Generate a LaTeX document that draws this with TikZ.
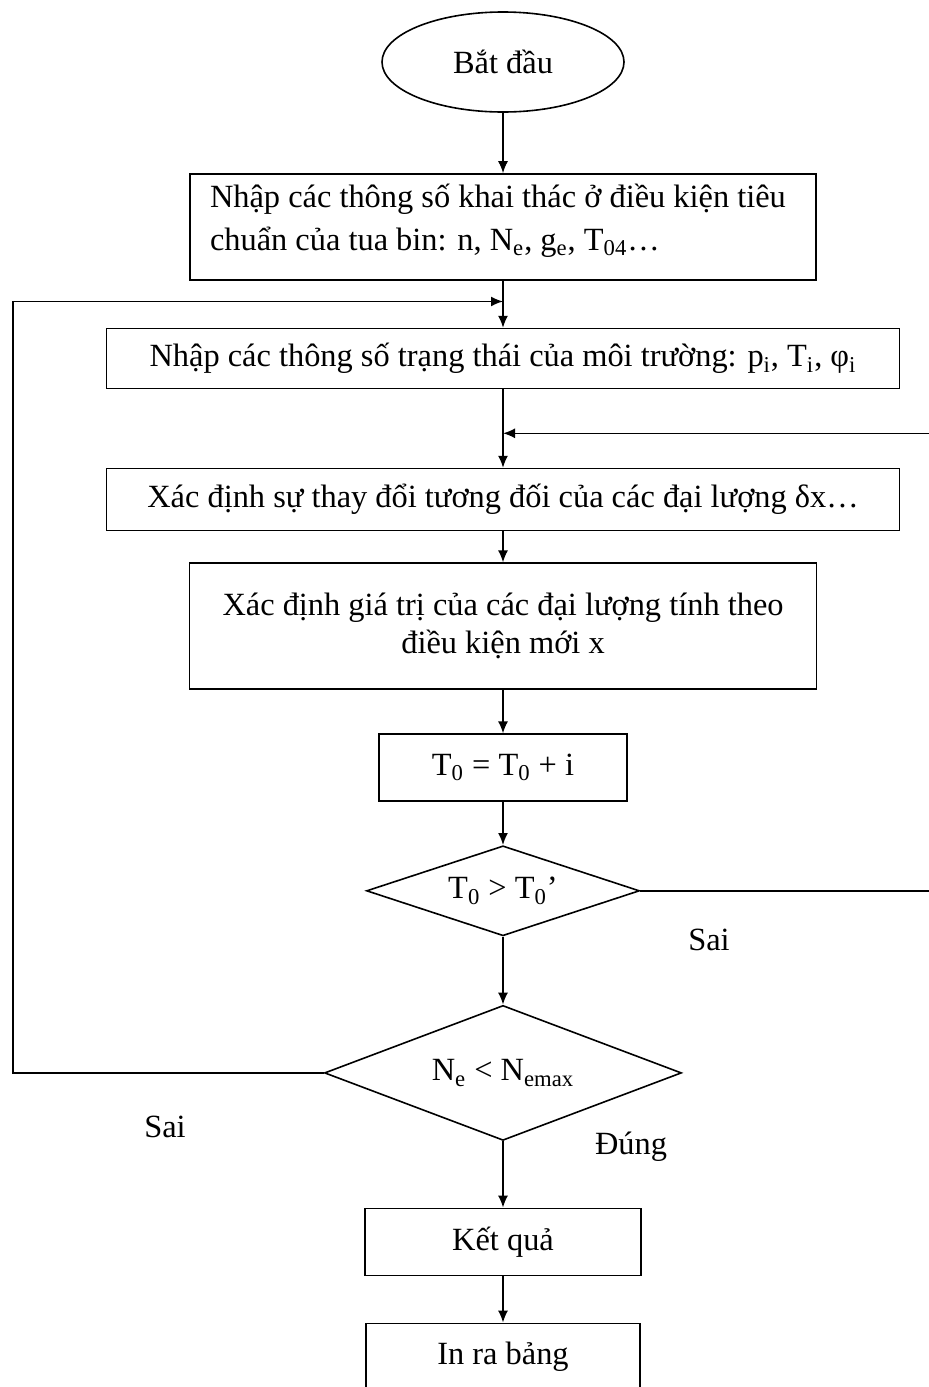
\documentclass[tikz,border=0pt]{standalone}
\usepackage{fontspec}
\setmainfont{Liberation Serif}
\usetikzlibrary{arrows.meta,calc,positioning,shapes.geometric}

\begin{document}
\begin{tikzpicture}[
  box/.style={draw=black,minimum height=33.5pt,align=center,font=\fontsize{16.2pt}{19pt}\selectfont,fill=white,line width=0.8pt,inner sep=3pt},
  decision/.style={draw=black,diamond,inner sep=0pt,font=\fontsize{16.2pt}{19pt}\selectfont,line width=0.8pt},
  arrow/.style={-{Latex[length=6pt,width=5pt]},line width=0.8pt,draw=black},
  lbl/.style={font=\fontsize{16.2pt}{19pt}\selectfont}
]
\useasboundingbox (0,0) rectangle (464pt,-693.5pt);
\node[draw=black,ellipse,line width=0.8pt,minimum width=121pt,minimum height=50pt,font=\fontsize{16.2pt}{19pt}\selectfont] (start) at (251.5pt,-31pt) {Bắt đầu};
\node[box,below=30.2pt of start,minimum width=313pt,minimum height=53pt,text width=293pt,align=flush left] (params) {Nhập các thông số khai thác ở điều kiện tiêu\\[2.5pt]chuẩn của tua bin: n, N\textsubscript{e}, g\textsubscript{e}, T\textsubscript{04}…\\[-9pt]\mbox{}};
\node[box,below=23.5pt of params,minimum width=396.5pt,minimum height=30pt] (env) {Nhập các thông số trạng thái của môi trường: p\textsubscript{i}, T\textsubscript{i}, φ\textsubscript{i}};
\node[box,below=39.2pt of env,minimum width=396.5pt,minimum height=31pt] (delta) {Xác định sự thay đổi tương đối của các đại lượng δx…};
\node[box,below=15.5pt of delta,minimum width=313.5pt,minimum height=63pt] (value) {Xác định giá trị của các đại lượng tính theo\\điều kiện mới x};
\node[box,below=21.7pt of value,minimum width=124pt] (incr) {T\textsubscript{0} = T\textsubscript{0} + i};
\node[decision,below=21.5pt of incr,minimum width=136.5pt,minimum height=45pt,aspect=3] (cmpT) {T\textsubscript{0} > T\textsubscript{0}’};
\node[decision,below=34pt of cmpT,minimum width=178.5pt,minimum height=67.5pt,aspect=2.6] (cmpN) {N\textsubscript{e} < N\textsubscript{emax}};
\node[box,below=33.2pt of cmpN,minimum width=138pt] (result) {Kết quả};
\node[box,below=23.2pt of result,minimum width=137pt] (table) {In ra bảng};

\coordinate (jointop) at ($(params.south)!0.44!(env.north)$);
\coordinate (joinmid) at ($(env.south)!0.56!(delta.north)$);
\coordinate (loopl) at (6.5pt,0);
\coordinate (loopr) at (467pt,0);

\draw[arrow] (start) -- (params);
\draw[arrow] (params) -- (env);
\draw[arrow] (env) -- (delta);
\draw[arrow] (delta) -- (value);
\draw[arrow] (value) -- (incr);
\draw[arrow] (incr) -- (cmpT);
\draw[arrow] (cmpT) -- (cmpN);
\draw[arrow] (cmpN) -- (result);
\draw[arrow] (result) -- (table);
\draw[arrow] (cmpN.west) -| (loopl |- jointop) -- (jointop);
\draw[arrow] (cmpT.east) -- (cmpT.east -| loopr) |- (joinmid);

\node[lbl] (sai1) at (354.5pt,-470pt) {Sai};
\node[lbl] (sai2) at (82.5pt,-563.5pt) {Sai};
\node[lbl] (dung) at (315.5pt,-573.5pt) {Đúng};
\end{tikzpicture}
\end{document}
